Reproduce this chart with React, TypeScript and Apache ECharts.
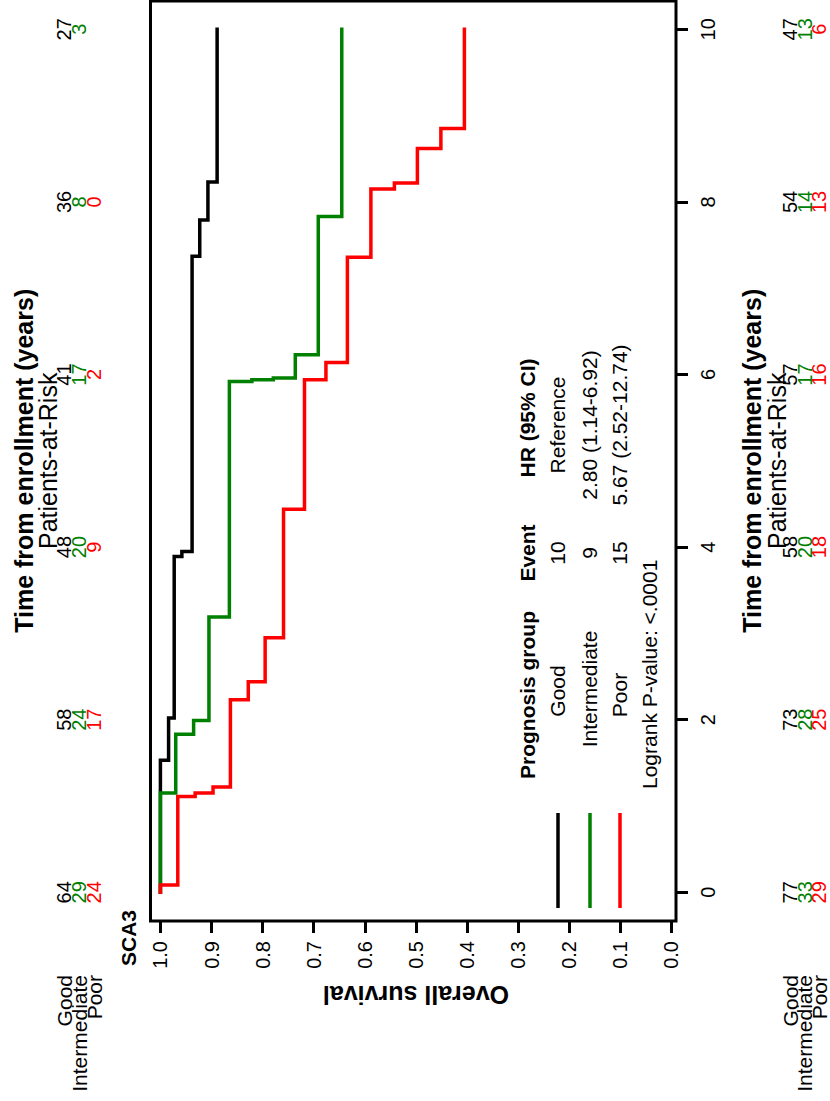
import React, { useEffect, useRef } from "react";
import * as echarts from "echarts";

// ---- data ----
const timeTicks = [0, 2, 4, 6, 8, 10];
const survivalTicks = [0, 0.1, 0.2, 0.3, 0.4, 0.5, 0.6, 0.7, 0.8, 0.9, 1.0];
const followEnd = 10;

const goodTimes = [1.53, 2.02, 3.89, 3.95, 7.37, 7.79, 8.23];
const goodSurv = [0.984, 0.973, 0.958, 0.938, 0.923, 0.907, 0.889];
const interTimes = [1.15, 1.83, 1.99, 3.19, 5.92, 5.94, 5.96, 6.23, 7.83];
const interSurv = [0.97, 0.935, 0.905, 0.865, 0.821, 0.779, 0.736, 0.691, 0.645];
const poorTimes = [0.085, 1.11, 1.15, 1.22, 2.23, 2.44, 2.95, 4.44, 5.94, 6.14, 7.36, 8.15, 8.22, 8.62, 8.85];
const poorSurv = [0.966, 0.932, 0.897, 0.863, 0.828, 0.795, 0.759, 0.718, 0.676, 0.634, 0.588, 0.542, 0.497, 0.451, 0.405];

const groups = ["Good", "Intermediate", "Poor"];
const groupColors = ["#000000", "#008000", "#ff0000"];
const events = ["10", "9", "15"];
const hazardRatios = ["Reference", "2.80 (1.14-6.92)", "5.67 (2.52-12.74)"];
const pValueText = "Logrank P-value: <.0001";
const panelLabel = "SCA3";

const riskLeftGood = [64, 58, 48, 41, 36, 27];
const riskLeftInter = [29, 24, 20, 17, 8, 3];
const riskLeftPoor = [24, 17, 9, 2, 0, null];
const riskRightGood = [77, 73, 58, 57, 54, 47];
const riskRightInter = [33, 28, 20, 17, 14, 13];
const riskRightPoor = [29, 25, 18, 16, 13, 6];

const FONT = "'Liberation Sans', Arial, Helvetica, sans-serif";

function stepPoints(times: number[], surv: number[], end: number) {
  const pts: number[][] = [[1, 0]];
  let s = 1;
  times.forEach((t, i) => {
    pts.push([s, t]);
    s = surv[i];
    pts.push([s, t]);
  });
  pts.push([s, end]);
  return pts;
}

function vtext(text: string, x: number, y: number, align: string, font: string, color = "#000", rotation = Math.PI / 2) {
  return {
    type: "text",
    x,
    y,
    rotation,
    silent: true,
    style: {
      text,
      fill: color,
      font,
      align,
      verticalAlign: "middle",
      textAlign: align,
      textVerticalAlign: "middle",
    },
  };
}

export default function App() {
  const ref = useRef<HTMLDivElement>(null);
  useEffect(() => {
    if (!ref.current) return;
    const chart = echarts.init(ref.current, null, { renderer: "svg" });
    const curves = [
      stepPoints(goodTimes, goodSurv, followEnd),
      stepPoints(interTimes, interSurv, followEnd),
      stepPoints(poorTimes, poorSurv, followEnd),
    ];
    chart.setOption({
      animation: false,
      grid: {
        left: 150.5,
        top: 1,
        width: 525.5,
        height: 920,
        show: true,
        borderColor: "#000",
        borderWidth: 3,
        backgroundColor: "transparent",
      },
      xAxis: {
        type: "value",
        inverse: true,
        min: -0.0092,
        max: 1.0194,
        position: "bottom",
        axisLine: { show: false, onZero: false },
        splitLine: { show: false },
        axisTick: { show: true, inside: false, length: 12, lineStyle: { color: "#000", width: 3 }, customValues: survivalTicks },
        axisLabel: {
          customValues: survivalTicks,
          rotate: 90,
          margin: 20,
          fontSize: 20,
          color: "#000",
          fontFamily: FONT,
          formatter: (v: number) => v.toFixed(1),
        },
      },
      yAxis: {
        type: "value",
        min: -0.3326,
        max: 10.328,
        position: "right",
        axisLine: { show: false, onZero: false },
        splitLine: { show: false },
        axisTick: { show: true, inside: false, length: 12, lineStyle: { color: "#000", width: 3 }, customValues: timeTicks },
        axisLabel: {
          customValues: timeTicks,
          rotate: 90,
          margin: 22,
          fontSize: 20,
          color: "#000",
          fontFamily: FONT,
        },
      },
      series: curves.map((pts, i) => ({
        type: "line",
        name: groups[i],
        data: pts,
        showSymbol: false,
        symbol: "none",
        lineStyle: { color: groupColors[i], width: 3.5, cap: "square", join: "miter" },
        z: 2 + i,
      })),
    });

    const yPix = (t: number) => chart.convertToPixel({ yAxisIndex: 0 }, t) as number;
    const regular = `20px ${FONT}`;
    const regular21 = `21px ${FONT}`;
    const bold21 = `bold 21px ${FONT}`;
    const bold25 = `bold 25px ${FONT}`;
    const els: any[] = [];

    // at-risk tables
    const leftCols = [64, 79, 94];
    const rightCols = [790, 804.5, 819];
    const leftRisk = [riskLeftGood, riskLeftInter, riskLeftPoor];
    const rightRisk = [riskRightGood, riskRightInter, riskRightPoor];
    timeTicks.forEach((t, j) => {
      const y = yPix(t);
      for (let g = 0; g < 3; g++) {
        const lv = leftRisk[g][j];
        if (lv !== null && lv !== undefined) els.push(vtext(String(lv), leftCols[g], y, "center", regular, groupColors[g]));
        const rv = rightRisk[g][j];
        if (rv !== null && rv !== undefined) els.push(vtext(String(rv), rightCols[g], y, "center", regular, groupColors[g]));
      }
    });
    for (let g = 0; g < 3; g++) {
      els.push(vtext(groups[g], leftCols[g], 975, "right", regular21));
      els.push(vtext(groups[g], rightCols[g], 975, "right", regular21));
    }
    const mid = yPix(5);
    els.push(vtext("Time from enrollment (years)", 24, mid, "center", bold25));
    els.push(vtext("Patients-at-Risk", 48, mid, "center", `25px ${FONT}`));
    els.push(vtext("Time from enrollment (years)", 752, mid, "center", bold25));
    els.push(vtext("Patients-at-Risk", 777, mid, "center", `25px ${FONT}`));

    els.push(vtext(panelLabel, 128, 938, "center", bold21));
    els.push(vtext("Overall survival", 416, 995, "center", bold25, "#000", Math.PI));

    // legend table
    els.push(vtext("Prognosis group", 527, 695, "center", bold21));
    els.push(vtext("Event", 527, 553, "center", bold21));
    els.push(vtext("HR (95% CI)", 527, 418, "center", bold21));
    const rowX = [557, 589, 619];
    const groupCenter = [691, 689, 695];
    for (let g = 0; g < 3; g++) {
      els.push(vtext(groups[g], rowX[g], groupCenter[g], "center", regular21));
      els.push(vtext(events[g], rowX[g], 553, "center", regular21));
      els.push(vtext(hazardRatios[g], rowX[g], 425, "center", regular21));
      els.push({
        type: "line",
        silent: true,
        shape: { x1: rowX[g] + 1, y1: 813, x2: rowX[g] + 1, y2: 908 },
        style: { stroke: groupColors[g], lineWidth: 3.5 },
      });
    }
    els.push(vtext(pValueText, 649, 789, "left", regular21));

    chart.setOption({ graphic: { elements: els } });
    return () => chart.dispose();
  }, []);
  return (
    <div
      ref={ref}
      style={{ position: "absolute", left: 0, top: 0, width: 830, height: 1101, background: "#fff" }}
    />
  );
}
